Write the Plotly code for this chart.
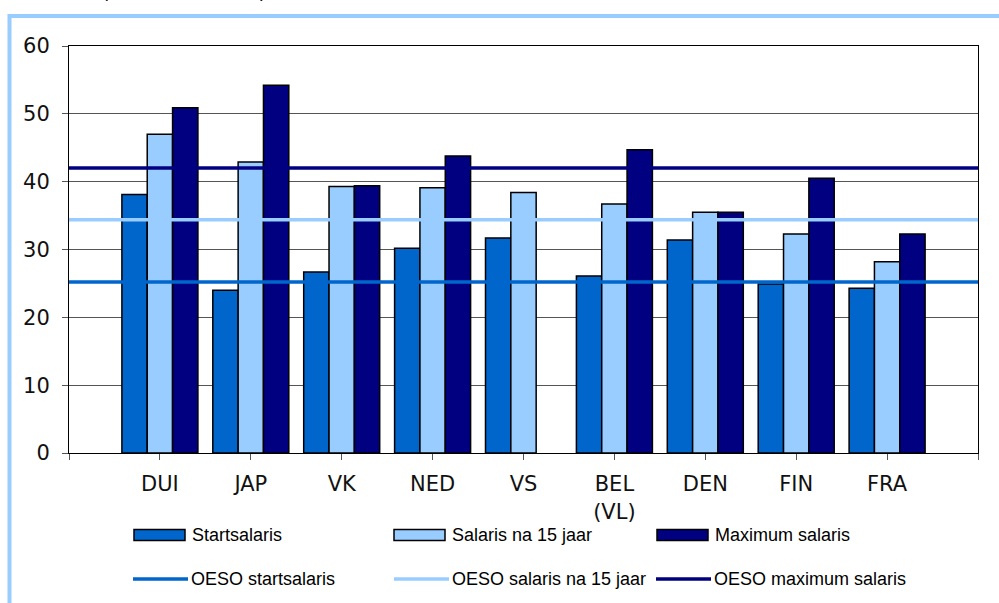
"""Teacher salaries vs OESO averages: grouped bars with reference lines."""

import plotly.graph_objects as go

countries = ["DUI", "JAP", "VK", "NED", "VS", "BEL<br>(VL)", "DEN", "FIN", "FRA"]
start_salary = [38.1, 24.0, 26.7, 30.2, 31.7, 26.1, 31.4, 24.9, 24.3]
salary_15y = [47.0, 42.9, 39.3, 39.1, 38.4, 36.7, 35.5, 32.3, 28.2]
max_salary = [50.9, 54.2, 39.4, 43.8, None, 44.7, 35.5, 40.5, 32.3]

oeso_start = 25.2
oeso_15y = 34.4
oeso_max = 42.0

y_ticks = [0, 10, 20, 30, 40, 50, 60]

C_START = "#0066CC"
C_15Y = "#99CCFF"
C_MAX = "#000080"

W, H = 999, 603
PLOT_L, PLOT_R, PLOT_T, PLOT_B = 69, 978, 46, 453
X_RANGE = [-1, len(countries)]


def fx(px):
    return (px - PLOT_L) / (PLOT_R - PLOT_L)


def fy(py):
    return (PLOT_B - py) / (PLOT_B - PLOT_T)


x_idx = list(range(len(countries)))
fig = go.Figure()

for name, vals, color in [
    ("Startsalaris", start_salary, C_START),
    ("Salaris na 15 jaar", salary_15y, C_15Y),
    ("Maximum salaris", max_salary, C_MAX),
]:
    fig.add_trace(go.Bar(
        x=x_idx, y=vals, name=name,
        marker=dict(color=color, line=dict(color="black", width=1.5)),
    ))

for name, val, color in [
    ("OESO startsalaris", oeso_start, C_START),
    ("OESO salaris na 15 jaar", oeso_15y, C_15Y),
    ("OESO maximum salaris", oeso_max, C_MAX),
]:
    fig.add_trace(go.Scatter(
        x=X_RANGE, y=[val, val], name=name, mode="lines",
        line=dict(color=color, width=3.5), cliponaxis=False,
    ))

# hand-drawn legend (Excel style: wide swatches)
legend_items = [
    ("Startsalaris", "bar", C_START, 134, 535),
    ("Salaris na 15 jaar", "bar", C_15Y, 394, 535),
    ("Maximum salaris", "bar", C_MAX, 657, 535),
    ("OESO startsalaris", "line", C_START, 133, 579),
    ("OESO salaris na 15 jaar", "line", C_15Y, 394, 579),
    ("OESO maximum salaris", "line", C_MAX, 656, 579),
]
shapes = [dict(
    type="rect", xref="paper", yref="paper",
    x0=fx(9.5), x1=fx(1020), y0=fy(16), y1=fy(640),
    line=dict(color="#99CCFF", width=4), layer="below",
)]
annotations = []
for label, kind, color, x, y in legend_items:
    if kind == "bar":
        shapes.append(dict(
            type="rect", xref="paper", yref="paper",
            x0=fx(x), x1=fx(x + 51), y0=fy(y - 5.5), y1=fy(y + 5.5),
            fillcolor=color, line=dict(color="black", width=1.5),
        ))
    else:
        shapes.append(dict(
            type="line", xref="paper", yref="paper",
            x0=fx(x), x1=fx(x + 55), y0=fy(y), y1=fy(y),
            line=dict(color=color, width=3.5),
        ))
    annotations.append(dict(
        text=label, xref="paper", yref="paper", x=fx(x + 56), y=fy(y),
        xanchor="left", yanchor="middle", showarrow=False,
        font=dict(family="Liberation Sans, Arial", size=18, color="black"),
    ))

# title mostly cut off at the top of the image
annotations.append(dict(
    text="(in 1000 USD, 2004)", xref="paper", yref="paper",
    x=fx(100), y=fy(-9), xanchor="left", yanchor="middle", showarrow=False,
    font=dict(family="Liberation Sans, Arial", size=18, color="black"),
))

tick_font = dict(family="DejaVu Sans", size=21, color="#111111")
fig.update_layout(
    width=W, height=H,
    margin=dict(l=PLOT_L, r=W - PLOT_R, t=PLOT_T, b=H - PLOT_B),
    paper_bgcolor="white", plot_bgcolor="white",
    barmode="group", bargap=0.164, bargroupgap=0,
    showlegend=False,
    shapes=shapes, annotations=annotations,
)
fig.update_xaxes(
    range=X_RANGE,
    tickmode="array",
    tickvals=list(range(-1, len(countries) + 1)),
    ticktext=[""] + countries + [""],
    ticks="outside", ticklen=6, tickcolor="#555555",
    showline=True, linecolor="black", linewidth=1, mirror=True,
    showgrid=False, zeroline=False,
    tickfont=tick_font, ticklabelstandoff=6,
)
fig.update_yaxes(
    range=[0, 60],
    tickvals=y_ticks,
    ticks="outside", ticklen=6, tickcolor="#555555",
    showline=True, linecolor="black", linewidth=1, mirror=True,
    showgrid=True, gridcolor="#555555", gridwidth=1, zeroline=False,
    tickfont=tick_font, ticklabelstandoff=8,
)

# page body has an 8px default margin; drop it so the figure fills the window
fig.write_html(
    "out.html",
    config={"displayModeBar": False},
    post_script="document.body.style.margin='0';document.body.style.overflow='hidden';",
)
